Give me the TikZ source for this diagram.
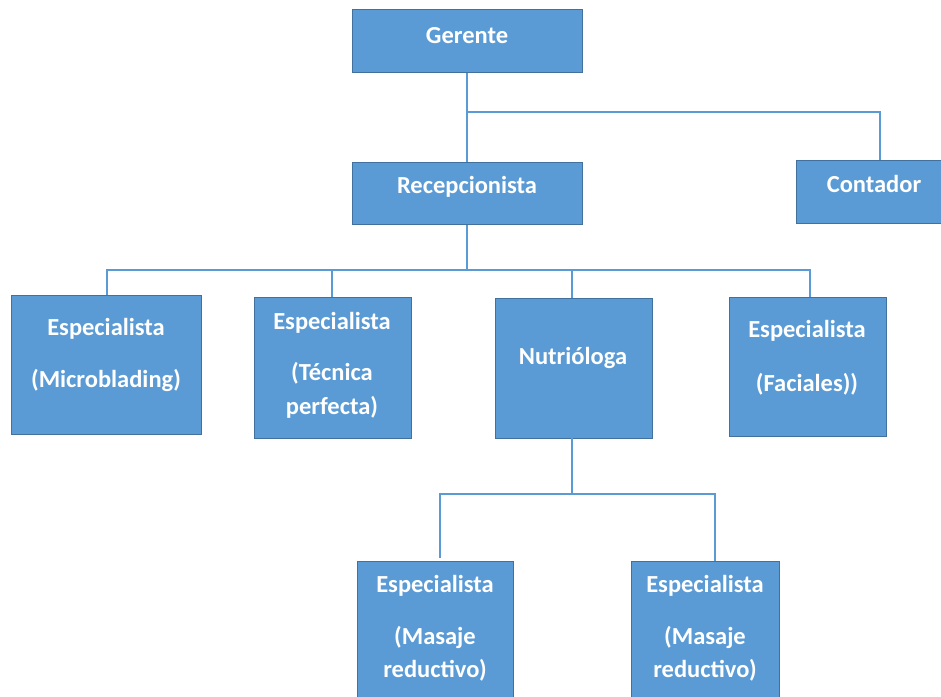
\documentclass[tikz,border=0pt]{standalone}
\usepackage{fontspec}
\setmainfont{Carlito}
\definecolor{boxfill}{HTML}{5B9BD5}
\definecolor{boxline}{HTML}{41719C}
\definecolor{conn}{HTML}{5B9BD5}
\begin{document}
\begin{tikzpicture}[x=1pt,y=-1pt,
  orgbox/.style={draw=boxline,fill=boxfill,line width=1pt,inner sep=0pt},
  lbl/.style={anchor=base,text=white,font=\fontsize{24.5}{28}\selectfont\bfseries,inner sep=0pt},
  link/.style={draw=conn,line width=1.6pt}]
\useasboundingbox (0,0) rectangle (941,696);
% boxes
\node[orgbox,minimum width=230pt,minimum height=63pt] (ger) at (467,40.5) {};
\node[orgbox,minimum width=230pt,minimum height=62pt] (rec) at (467,193) {};
\node[orgbox,minimum width=156pt,minimum height=63pt] (con) at (874,191.5) {};
\node[orgbox,minimum width=190pt,minimum height=139pt] (mic) at (106,364.5) {};
\node[orgbox,minimum width=157pt,minimum height=141pt] (tec) at (332.5,367.5) {};
\node[orgbox,minimum width=157pt,minimum height=140pt] (nut) at (573.5,368) {};
\node[orgbox,minimum width=157pt,minimum height=139pt] (fac) at (807.5,366.5) {};
\node[orgbox,minimum width=156pt,minimum height=144pt] (ma1) at (435,633) {};
\node[orgbox,minimum width=148pt,minimum height=144pt] (ma2) at (705,633) {};
% connector end points
\coordinate (j1) at (467,112);
\coordinate (j2) at (467,270);
\coordinate (j3) at (572,494);
\coordinate (conT) at (880,160);
\coordinate (micT) at (107,295);
\coordinate (tecT) at (332,297);
\coordinate (nutT) at (572,298);
\coordinate (nutB) at (572,438);
\coordinate (facT) at (810,297);
\coordinate (ma1T) at (440,558);
\coordinate (ma2T) at (715,561);
% connectors
\draw[link] (ger.south) -- (rec.north);
\draw[link] (j1) -| (conT);
\draw[link] (rec.south) -- (j2);
\draw[link] (micT) |- (j2);
\draw[link] (facT) |- (j2);
\draw[link] (tecT) -- (tecT |- j2);
\draw[link] (nutT) -- (nutT |- j2);
\draw[link] (nutB) -- (j3);
\draw[link] (ma1T) |- (j3);
\draw[link] (ma2T) |- (j3);
% labels
\node[lbl] (tger) at (467,43) {Gerente};
\node[lbl] (trec) at (467,193) {Recepcionista};
\node[lbl] (tcon) at (874,192) {Contador};
\node[lbl] (tmic1) at (106,335) {Especialista};
\node[lbl] (tmic2) at (106,387) {(Microblading)};
\node[lbl] (ttec1) at (332,329) {Especialista};
\node[lbl] (ttec2) at (332,380) {(Técnica};
\node[lbl] (ttec3) at (332,414) {perfecta)};
\node[lbl] (tnut) at (573,364) {Nutrióloga};
\node[lbl] (tfac1) at (807,337) {Especialista};
\node[lbl] (tfac2) at (807,391) {(Faciales))};
\node[lbl] (tma11) at (435,592) {Especialista};
\node[lbl] (tma12) at (435,644) {(Masaje};
\node[lbl] (tma13) at (435,677) {reductivo)};
\node[lbl] (tma21) at (705,592) {Especialista};
\node[lbl] (tma22) at (705,644) {(Masaje};
\node[lbl] (tma23) at (705,677) {reductivo)};
\end{tikzpicture}
\end{document}
